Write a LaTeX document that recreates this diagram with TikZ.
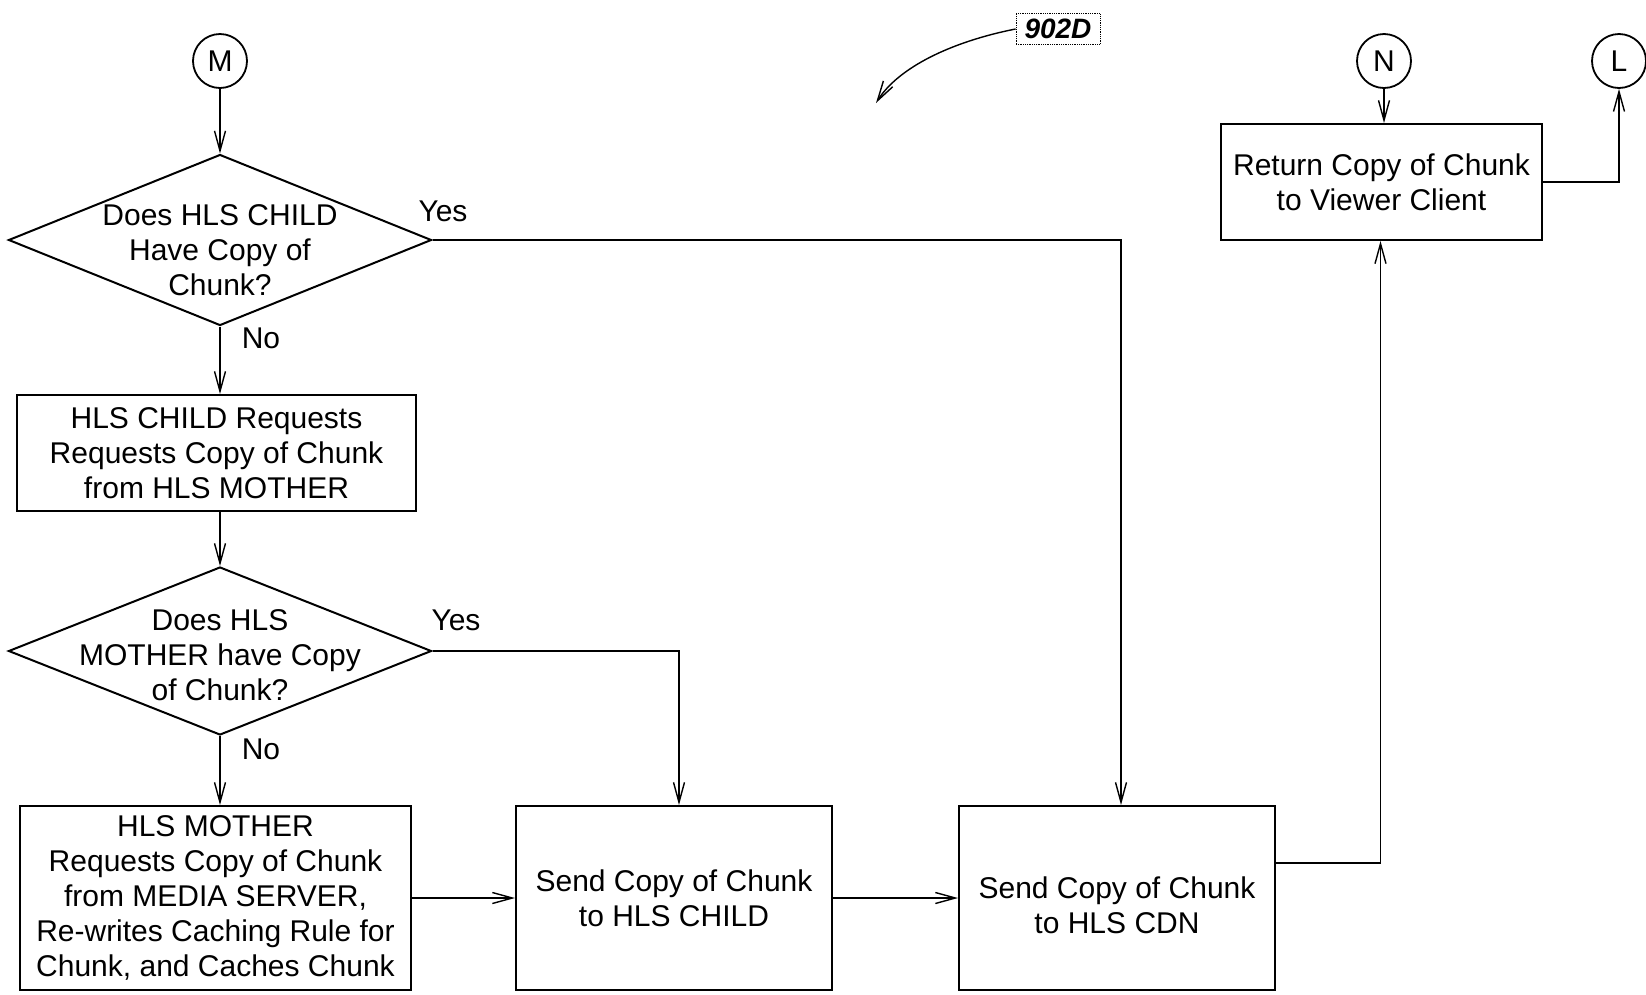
\documentclass[tikz,border=0pt]{standalone}
\usepackage{fontspec}
\setmainfont{Liberation Sans}
\usetikzlibrary{arrows.meta,shapes.geometric}
\begin{document}
\begin{tikzpicture}[x=1pt,y=-1pt,
  every node/.style={font=\fontsize{30}{35}\selectfont},
  box/.style={draw,line width=2pt,rectangle,align=center,inner sep=0pt},
  dia/.style={draw,line width=2pt,diamond,inner sep=0pt},
  diatext/.style={align=center,inner sep=0pt},
  conn/.style={draw,circle,line width=1.8pt,minimum size=54pt,inner sep=0pt},
  arr/.style={line width=1.4pt,-{Straight Barb[length=20pt,width=11pt,line width=1.4pt]}},
  lbl/.style={inner sep=0pt}]
\useasboundingbox (0,0) rectangle (1646,994);
% connectors (circles)
\node[conn] (M) at (220,61) {M};
\node[conn] (N) at (1384,61) {N};
\node[conn] (L) at (1619,61) {L};
% decisions
\node[dia,minimum width=423pt,minimum height=171pt] (d1) at (220,240) {};
\node[diatext] (d1t) at (220,250) {Does HLS CHILD\\Have Copy of\\Chunk?};
\node[dia,minimum width=423pt,minimum height=168pt] (d2) at (220,651) {};
\node[diatext] (d2t) at (220,655) {Does HLS\\MOTHER have Copy\\of Chunk?};
% boxes
\node[box,minimum width=399pt,minimum height=116pt] (b1) at (216.5,453) {HLS CHILD Requests\\Requests Copy of Chunk\\from HLS MOTHER};
\node[box,minimum width=391pt,minimum height=184pt] (mo) at (215.5,898) {HLS MOTHER\\Requests Copy of Chunk\\from MEDIA SERVER,\\Re-writes Caching Rule for\\Chunk, and Caches Chunk};
\node[box,minimum width=316pt,minimum height=184pt] (sc) at (674,898) {Send Copy of Chunk\\to HLS CHILD};
\node[box,minimum width=316pt,minimum height=184pt] (cdn) at (1117,898) {};
\node[diatext] (cdnt) at (1117,905) {Send Copy of Chunk\\to HLS CDN};
\node[box,minimum width=321pt,minimum height=116pt] (ret) at (1381.5,182) {Return Copy of Chunk\\to Viewer Client};
% reference label
\node[draw,densely dotted,line width=0.8pt,inner sep=3pt,minimum width=84pt,minimum height=31pt,font=\fontsize{28}{30}\selectfont\bfseries\itshape] (ref) at (1058,29) {902D};
\draw[line width=1.4pt,-{Straight Barb[length=20pt,width=11pt,line width=1.4pt]}] (ref.west) .. controls (950,42) and (898,68) .. (876,103);
% edges
\draw[arr] (M) -- (d1.north);
\draw[arr] (d1.east) -| ([xshift=4pt]cdn.north);
\node[lbl] (y1) at (443,211) {Yes};
\draw[arr] (d1.south) -- (d1.south |- b1.north);
\node[lbl] (n1) at (261,338) {No};
\draw[arr] (d2.north |- b1.south) -- (d2.north);
\draw[arr] (d2.east) -| ([xshift=5pt]sc.north);
\node[lbl] (y2) at (456,620) {Yes};
\draw[arr] (d2.south) -- (d2.south |- mo.north);
\node[lbl] (n2) at (261,749) {No};
\draw[arr] (mo.east) -- (sc.west);
\draw[arr] (sc.east) -- (cdn.west);
\draw[arr] ([yshift=35pt]cdn.east) -| ([xshift=-1pt]ret.south);
\draw[arr] (N) -- (N |- ret.north);
\draw[arr] (ret.east) -| (L.south);
\end{tikzpicture}
\end{document}
